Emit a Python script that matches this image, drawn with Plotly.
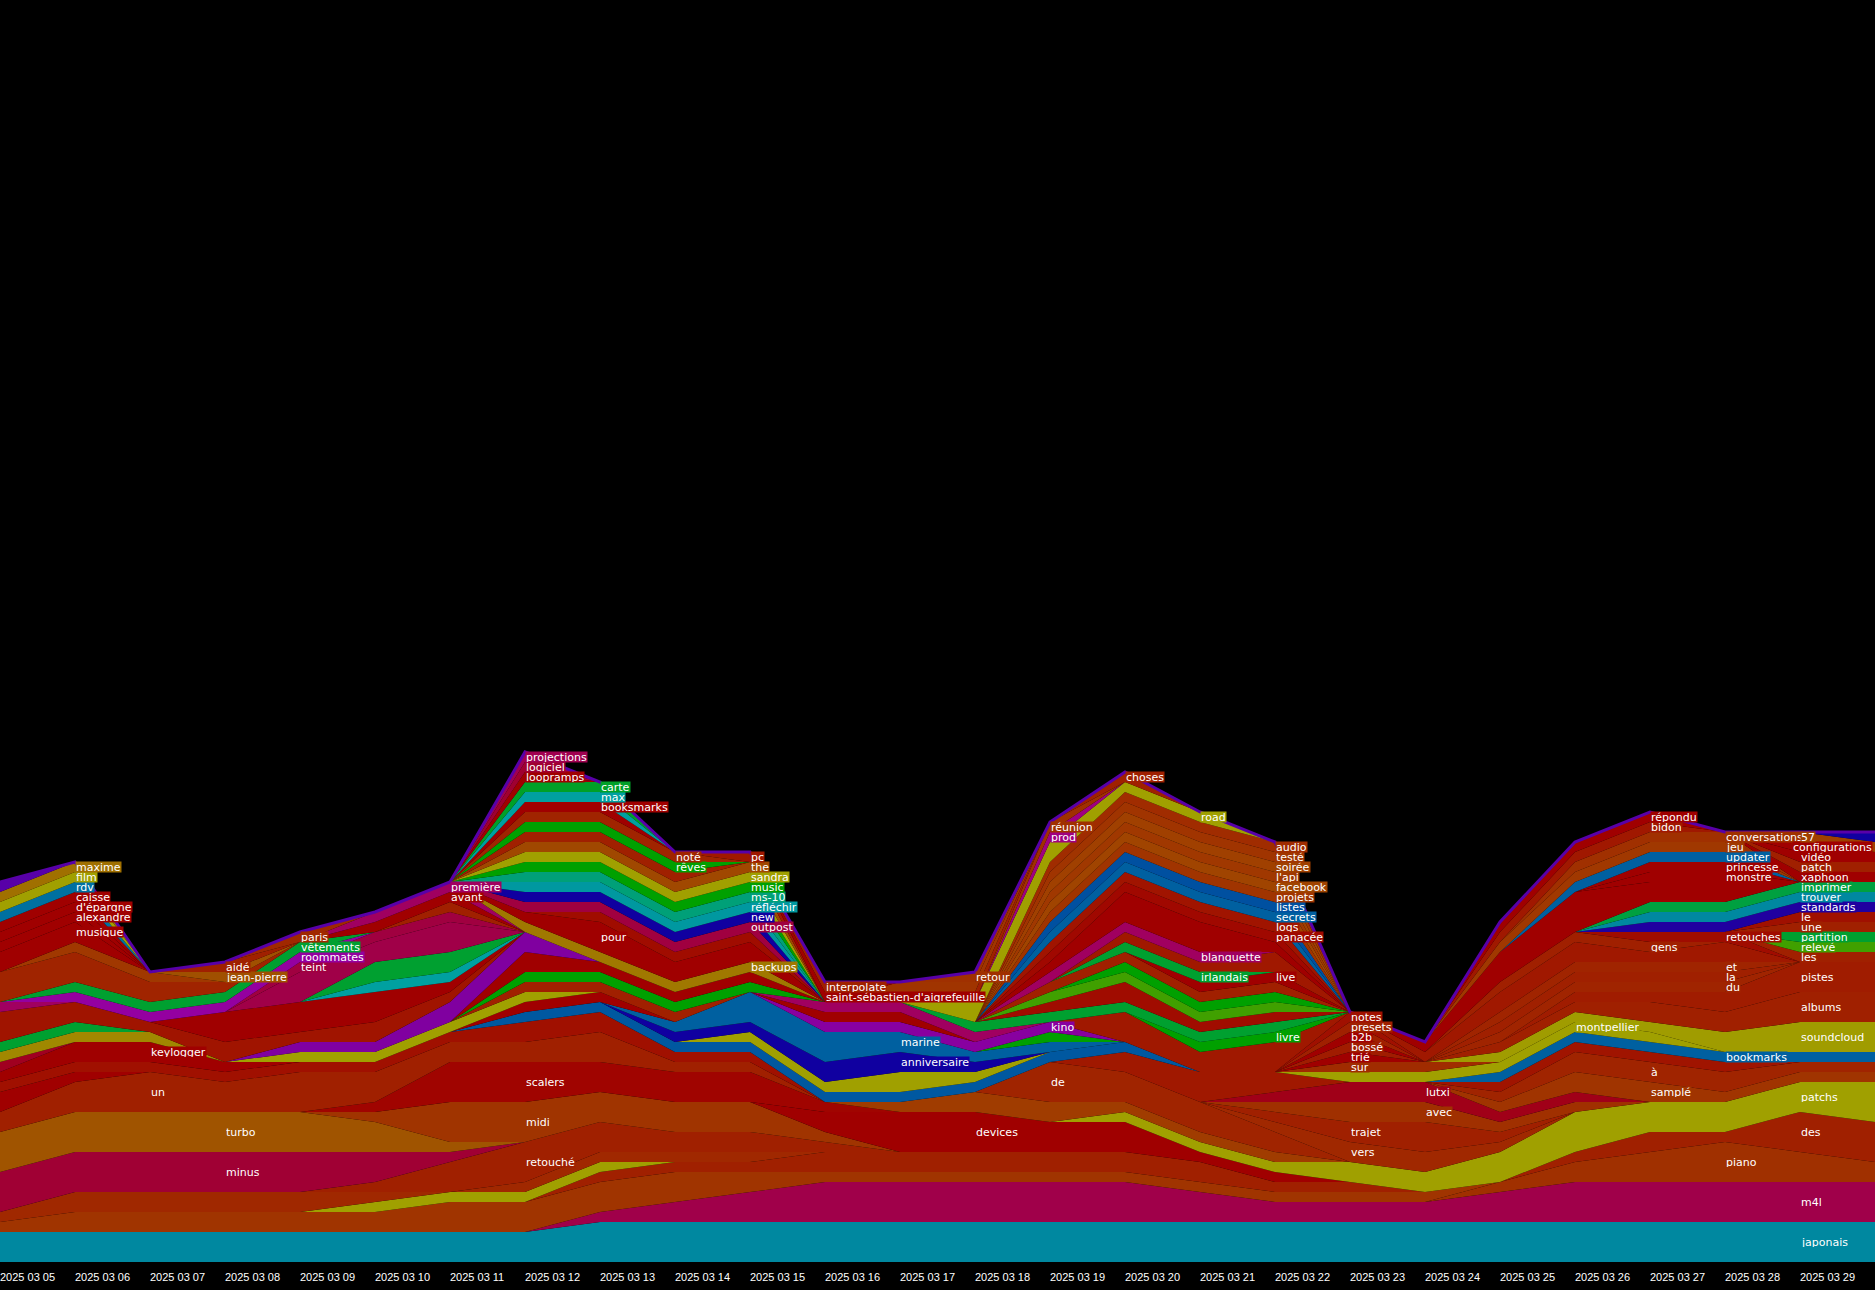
import plotly.graph_objects as go

DATES = ["2025-03-05", "2025-03-06", "2025-03-07", "2025-03-08", "2025-03-09",
         "2025-03-10", "2025-03-11", "2025-03-12", "2025-03-13", "2025-03-14",
         "2025-03-15", "2025-03-16", "2025-03-17", "2025-03-18", "2025-03-19",
         "2025-03-20", "2025-03-21", "2025-03-22", "2025-03-23", "2025-03-24",
         "2025-03-25", "2025-03-26", "2025-03-27", "2025-03-28", "2025-03-29",
         "2025-03-30"]
TICK_LABELS = ["2025 03 05", "2025 03 06", "2025 03 07", "2025 03 08", "2025 03 09",
               "2025 03 10", "2025 03 11", "2025 03 12", "2025 03 13", "2025 03 14",
               "2025 03 15", "2025 03 16", "2025 03 17", "2025 03 18", "2025 03 19",
               "2025 03 20", "2025 03 21", "2025 03 22", "2025 03 23", "2025 03 24",
               "2025 03 25", "2025 03 26", "2025 03 27", "2025 03 28", "2025 03 29"]

# rows: (word, colour, label day index or None, first day index, daily counts from that day)
BASE_ROWS = [
    ("japonais", "#0088a0", 24, 0, [3, 3, 3, 3, 3, 3, 3, 3, 4, 4, 4, 4, 4, 4, 4, 4, 4, 4, 4, 4, 4, 4, 4, 4, 4, 4]),
    ("m4l", "#a0004a", 24, 8, [1, 2, 3, 4, 4, 4, 4, 4, 3, 2, 2, 2, 3, 4, 4, 4, 4, 4]),
    ("piano", "#a03000", 23, 20, [1, 2, 3, 4, 3, 2]),
    ("_oa", "#a03400", None, 0, [1, 2, 2, 2, 2, 2, 3, 3, 3, 3, 2, 1, 1, 1, 1, 1, 1, 1, 1, 1]),
    ("_od", "#a02000", None, 8, [1, 1, 1, 2, 2, 2, 2, 2, 2, 1, 1]),
    ("_x1", "#a0a000", None, 5, [1, 1, 1, 1]),
    ("_oc", "#a02800", None, 0, [1, 2, 2, 2, 2, 1, 0, 1, 1, 1, 1]),
    ("retouché", "#a02000", 7, 5, [1, 3, 4, 3, 2, 2, 1]),
    ("minus", "#a00034", 3, 0, [4, 4, 4, 4, 4, 3, 1]),
    ("turbo", "#a05400", 3, 0, [4, 4, 4, 4, 4, 3, 1]),
    ("midi", "#a03400", 7, 5, [1, 4, 4, 3, 3, 3, 1]),
    ("devices", "#a00000", 13, 11, [2, 4, 4, 3, 3, 1, 1]),
    ("scalers", "#a00400", 7, 5, [1, 4, 4, 3, 3, 3, 1]),
    ("un", "#a02000", 2, 0, [2, 3, 4, 3, 4, 3, 2, 2, 3, 1, 1]),
    ("_r2", "#a00000", None, 0, [2, 1]),
    ("_r3", "#a01000", None, 0, [1, 1, 1, 1, 1, 1, 1, 2, 2, 1, 1]),
]

RIGHT_ROWS = [
    ("des", "#a02000", 24, 21, [1, 2, 1, 4, 4]),
    ("patchs", "#a0a000", 24, 15, [1, 1, 1, 2, 2, 3, 4, 3, 3, 3, 4]),
    ("_oe", "#a03c00", None, 12, [1, 2, 2, 1, 1, 1]),
    ("de", "#a02400", 14, 14, [4, 3, 3, 2]),
    ("vers", "#a02800", 18, 17, [1, 2, 2, 1]),
    ("trajet", "#a02000", 18, 17, [1, 2, 3, 1]),
    ("avec", "#a03000", 19, 17, [1, 2, 2, 1, 1]),
    ("lutxi", "#a00018", 19, 17, [1, 2, 2, 1, 1]),
    ("_rx", "#a01800", None, 15, [2, 3, 2]),
    ("samplé", "#a03400", 22, 20, [1, 2, 2, 1, 1, 1]),
    ("à", "#a02400", 22, 20, [1, 2, 2, 2, 1, 1]),
    ("_rq", "#a01400", None, 20, [1, 1, 1, 1]),
    ("bookmarks", "#0060a0", 23, 20, [1, 1, 1, 1, 1, 1]),
    ("montpellier", "#a0a000", 21, 18, [1, 1, 1, 1, 1]),
    ("sur", "#a02c00", 18, 18, [1, 1]),
    ("trié", "#a00000", 18, 18, [1]),
    ("bossé", "#a01c00", 18, 18, [1]),
    ("b2b", "#a00000", 18, 18, [1]),
    ("presets", "#a02000", 18, 18, [1]),
    ("notes", "#a01000", 18, 18, [1]),
    ("soundcloud", "#a09c00", 24, 20, [1, 1, 1, 2, 3, 3]),
    ("albums", "#a02000", 24, 20, [1, 1, 2, 2, 3, 3]),
    ("pistes", "#a01c00", 24, 21, [1, 1, 2, 3, 3]),
    ("du", "#a02400", 23, 20, [1, 1, 1, 1]),
    ("la", "#a02000", 23, 20, [1, 1, 1, 1]),
    ("et", "#a02400", 23, 20, [1, 1, 1, 1]),
    ("_rw", "#a01800", None, 19, [1, 2, 2, 1, 2]),
    ("gens", "#a02000", 22, 20, [1, 1, 1]),
    ("retouches", "#a00c00", 23, 22, [1, 1]),
    ("les", "#a02000", 24, 24, [1, 1]),
    ("relevé", "#40a000", 24, 24, [1, 1]),
    ("partition", "#00a030", 24, 24, [1, 1]),
    ("une", "#a02000", 24, 24, [1, 1]),
    ("le", "#a01000", 24, 24, [1, 1]),
    ("standards", "#2000a0", 24, 22, [1, 1, 1, 1]),
    ("trouver", "#0088a0", 24, 22, [1, 1, 1, 1]),
    ("imprimer", "#00a040", 24, 22, [1, 1, 1, 1]),
    ("_rk1", "#a00000", None, 19, [1, 3, 4, 2, 2]),
    ("monstre", "#a00000", 23, 22, [1, 1]),
    ("princesse", "#a00000", 23, 22, [1, 1]),
    ("updater", "#0060a0", 23, 21, [1, 1, 1]),
    ("jeu", "#a03800", 23, 20, [1, 1, 1, 1]),
    ("conversations", "#a03000", 23, 21, [1, 1, 1]),
    ("xaphoon", "#a00000", 24, 24, [1, 1]),
    ("patch", "#a02000", 24, 24, [1, 1]),
    ("vidéo", "#a00000", 24, 24, [1, 1]),
    ("configurations", "#a00000", 24, 24, [1]),
    ("57", "#a04000", 24, 24, [1, 1]),
    ("_nb", "#1000a0", None, 25, [1]),
    ("bidon", "#a01800", 22, 20, [1, 1, 1]),
    ("répondu", "#a00000", 22, 20, [1, 1, 1]),
]

LEFT_ROWS = [
    ("keylogger", "#a00000", 2, 0, [1, 2, 2, 1]),
    ("_r4", "#a00020", None, 0, [1]),
    ("_ob1", "#a08800", None, 0, [1, 1, 1]),
    ("_g1", "#00a030", None, 0, [1, 1]),
    ("_bl3", "#0058a0", None, 7, [1, 1, 1, 1, 1, 1, 1, 1, 1]),
    ("_ol3", "#a0a000", None, 10, [1, 1, 2, 1]),
    ("anniversaire", "#1000a0", 12, 9, [1, 1, 2, 2, 1]),
    ("marine", "#0060a0", 12, 9, [1, 3, 3, 2, 1, 1]),
    ("_gk", "#00a000", None, 14, [1]),
    ("kino", "#8800a0", 14, 11, [1, 1, 1, 1]),
    ("_rc", "#a00000", None, 7, [1, 1, 0, 0, 1, 1]),
    ("_cr2", "#a00060", None, 11, [1, 1, 1]),
    ("_yo1", "#a0a000", None, 4, [1, 1, 1, 1]),
    ("_rd", "#a02000", None, 7, [1, 1, 1]),
    ("_ga", "#00a000", None, 7, [1, 1, 1, 1]),
    ("_re", "#a00000", None, 7, [2, 1, 1, 1]),
    ("_pu1", "#8000a0", None, 4, [1, 1, 2, 2]),
    ("_r5", "#a01400", None, 0, [3, 2, 1, 2, 1, 2, 1]),
    ("_mg0", "#a00060", None, 0, [1]),
    ("_r5c", "#a00000", None, 3, [3, 3, 3, 1]),
    ("_tl0", "#00a0a0", None, 5, [1, 1]),
    ("_gt", "#00a030", None, 5, [2, 2]),
    ("_r5d", "#a00048", None, 4, [3, 2, 3]),
    ("teint", "#a00040", 4, 4, [1, 1, 1]),
    ("roommates", "#9400a0", 4, 1, [1, 1, 1, 1]),
    ("vêtements", "#00a030", 4, 1, [1, 1, 1, 1]),
    ("_r8", "#a02000", None, 6, [1]),
    ("avant", "#a00000", 6, 5, [1, 1]),
    ("première", "#a00060", 6, 5, [1, 1]),
    ("_r6a", "#a02400", None, 0, [3, 3, 2, 1]),
    ("_r6b", "#a03800", None, 1, [1, 1]),
    ("musique", "#a00000", 1, 0, [2, 2]),
    ("alexandre", "#a00000", 1, 0, [1, 1]),
    ("d'épargne", "#a00000", 1, 0, [1, 1]),
    ("caisse", "#a00000", 1, 0, [1, 1]),
    ("rdv", "#0070a0", 1, 0, [1, 1]),
    ("film", "#a0a000", 1, 0, [1, 1]),
    ("maxime", "#a07000", 1, 0, [1, 1]),
    ("_pu0", "#5800a8", None, 0, [1]),
    ("jean-pierre", "#a05000", 3, 3, [1]),
    ("aidé", "#a02000", 3, 3, [1]),
    ("paris", "#a02800", 4, 4, [1]),
]

PEAK1_ROWS = [
    ("backups", "#a07800", 10, 7, [1, 1, 1, 1]),
    ("pour", "#a00000", 8, 7, [1, 3, 2, 2]),
    ("_rp", "#a00c00", None, 8, [1, 1, 1]),
    ("outpost", "#a00040", 10, 7, [1, 1, 1, 1]),
    ("new", "#1000a0", 10, 7, [1, 1, 1, 1]),
    ("réfléchir", "#0098a0", 10, 7, [1, 1, 1, 1]),
    ("ms-10", "#00a078", 10, 7, [1, 1, 1, 1]),
    ("music", "#00a000", 10, 7, [1, 1, 1, 1]),
    ("sandra", "#a0a000", 10, 7, [1, 1, 1, 1]),
    ("the", "#a04800", 10, 7, [1, 1, 1, 1]),
    ("_rf", "#a02000", None, 7, [1, 1, 1]),
    ("rêves", "#00a000", 9, 7, [1, 1, 1]),
    ("noté", "#a02400", 9, 7, [1, 1, 1]),
    ("pc", "#a01800", 10, 10, [1]),
    ("booksmarks", "#a00000", 8, 7, [1, 1]),
    ("max", "#00a0a0", 8, 7, [1, 1]),
    ("carte", "#00a028", 8, 7, [1, 1]),
    ("loopramps", "#a00000", 7, 7, [1]),
    ("logiciel", "#a00030", 7, 7, [1]),
    ("projections", "#a00050", 7, 7, [1]),
]

PEAK2_ROWS = [
    ("_ry", "#a01800", None, 15, [3, 2, 3]),
    ("livre", "#00a000", 17, 16, [1, 1]),
    ("_gm", "#00a030", None, 13, [1, 1, 1, 1, 1]),
    ("_rg", "#a00c00", None, 14, [1, 2, 1, 1]),
    ("_yg1", "#40a000", None, 14, [1, 1, 1, 1]),
    ("_gn", "#00a000", None, 15, [1, 1, 1]),
    ("_rh", "#a02000", None, 14, [1, 1, 1, 1]),
    ("live", "#a00000", 17, 16, [1, 1]),
    ("irlandais", "#00a030", 16, 15, [1, 1]),
    ("_ri", "#a01800", None, 15, [1, 1, 2]),
    ("blanquette", "#a00060", 16, 14, [1, 1, 1]),
    ("_rj1", "#a00000", None, 14, [1, 3, 3, 1]),
    ("panacée", "#a00800", 17, 14, [1, 1, 1, 1]),
    ("logs", "#a01400", 17, 14, [1, 1, 1, 1]),
    ("secrets", "#0060a0", 17, 14, [1, 1, 1, 1]),
    ("listes", "#0050a0", 17, 14, [1, 1, 1, 1]),
    ("projets", "#a03400", 17, 14, [1, 1, 1, 1]),
    ("facebook", "#a04400", 17, 14, [1, 1, 1, 1]),
    ("l'api", "#a03800", 17, 14, [1, 1, 1, 1]),
    ("soirée", "#a04000", 17, 14, [1, 1, 1, 1]),
    ("testé", "#a03400", 17, 14, [1, 1, 1, 1]),
    ("audio", "#a02c00", 17, 14, [1, 1, 1, 1]),
    ("road", "#a0a000", 16, 13, [2, 2, 1, 1]),
    ("prod", "#a00080", 14, 14, [1]),
    ("réunion", "#a03000", 14, 14, [1]),
    ("choses", "#a02000", 15, 15, [1]),
]

VALLEY_ROWS = [
    ("_rt1", "#a02000", None, 12, [1, 1]),
    ("_rt2", "#a03400", None, 12, [1, 1]),
    ("retour", "#a03000", 13, 13, [1]),
    ("saint-sébastien-d'aigrefeuille", "#a00000", 11, 11, [1]),
    ("interpolate", "#a02000", 11, 11, [1]),
]

LABEL_XSHIFT = {"configurations": -8}
OUTLINE_COLOR = "#5800a8"
LABEL_FONT = "DejaVu Sans, Verdana, sans-serif"
TICK_FONT = "Liberation Sans, Arial, sans-serif"

ROWS = BASE_ROWS + RIGHT_ROWS + LEFT_ROWS + PEAK1_ROWS + PEAK2_ROWS + VALLEY_ROWS
n_days = len(DATES)

fig = go.Figure()
cum = [0] * n_days
annotations = []
for word, color, lday, start, counts in ROWS:
    vals = [0] * n_days
    for i, c in enumerate(counts):
        vals[start + i] = c
    fig.add_trace(go.Scatter(
        x=DATES, y=vals, stackgroup="words", mode="none",
        fillcolor=color, hoverinfo="skip", showlegend=False, name=word))
    if lday is not None:
        annotations.append(dict(
            x=DATES[lday], y=cum[lday] + vals[lday] / 2.0, xref="x", yref="y",
            text=word, showarrow=False, xanchor="left", yanchor="middle",
            xshift=LABEL_XSHIFT.get(word, 0),
            bgcolor=color, borderpad=0, height=10, valign="middle",
            font=dict(family=LABEL_FONT, size=11, color="#ffffff")))
    cum = [a + b for a, b in zip(cum, vals)]

# outline on top of the stack
fig.add_trace(go.Scatter(
    x=DATES, y=[0] * n_days, stackgroup="words", mode="lines",
    line=dict(color=OUTLINE_COLOR, width=3), fillcolor="rgba(0,0,0,0)",
    hoverinfo="skip", showlegend=False))

fig.update_layout(
    width=1875, height=1290,
    margin=dict(l=0, r=0, t=0, b=28, pad=0),
    paper_bgcolor="#000000", plot_bgcolor="#000000",
    showlegend=False, hovermode=False,
    annotations=annotations,
    xaxis=dict(type="date", range=[DATES[0], DATES[-1]],
               tickvals=DATES[:len(TICK_LABELS)], ticktext=TICK_LABELS,
               ticklabelposition="outside right", ticks="", ticklen=0,
               ticklabelstandoff=7,
               showgrid=False, zeroline=False, showline=False,
               tickfont=dict(family=TICK_FONT, size=11, color="#ffffff")),
    yaxis=dict(range=[0, 126.2], visible=False, showgrid=False, zeroline=False),
)

fig.write_html("out.html", config={"displayModeBar": False},
               post_script="document.body.style.margin='0';document.body.style.background='#000';")
